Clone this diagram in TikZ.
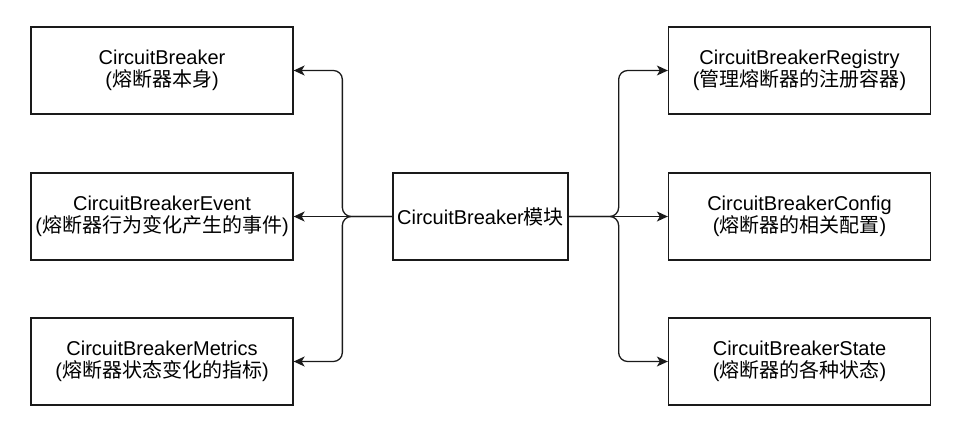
\documentclass[tikz,border=0pt]{standalone}
\usepackage{fontspec}
\setmainfont{Liberation Sans}
\newfontfamily\cjkfont{Noto Sans CJK SC}
\newcommand\zhtxt[1]{{\cjkfont #1}}
\usetikzlibrary{arrows.meta}
\definecolor{linec}{HTML}{1A1A1A}
\tikzset{
  box/.style={draw=linec, line width=1.3pt, minimum height=87pt, align=center,
    inner sep=0pt, font=\fontsize{20}{22}\selectfont, text=black},
  sidebox/.style={box, minimum width=262pt},
  conn/.style={draw=linec, line width=1.3pt, rounded corners=9pt,
    -{Stealth[length=11pt,width=10pt,inset=3pt]}}
}
\begin{document}
\begin{tikzpicture}[x=1pt,y=-1pt]
\useasboundingbox (0,0) rectangle (963,442);
\node[box, minimum width=175pt] (c) at (480.5,216.5) {CircuitBreaker\zhtxt{模块}};
\node[sidebox] (l1) at (162,70.5) {CircuitBreaker\\(\zhtxt{熔断器本身})};
\node[sidebox] (l2) at (162,216.5) {CircuitBreakerEvent\\(\zhtxt{熔断器行为变化产生的事件})};
\node[sidebox] (l3) at (162,361.5) {CircuitBreakerMetrics\\(\zhtxt{熔断器状态变化的指标})};
\node[sidebox] (r1) at (799.5,70.5) {CircuitBreakerRegistry\\(\zhtxt{管理熔断器的注册容器})};
\node[sidebox] (r2) at (799.5,216.5) {CircuitBreakerConfig\\(\zhtxt{熔断器的相关配置})};
\node[sidebox] (r3) at (799.5,361.5) {CircuitBreakerState\\(\zhtxt{熔断器的各种状态})};
\draw[conn] (c.west) -- ++(-50,0) |- (l1.east);
\draw[conn] (c.west) -- (l2.east);
\draw[conn] (c.west) -- ++(-50,0) |- (l3.east);
\draw[conn] (c.east) -- ++(50,0) |- (r1.west);
\draw[conn] (c.east) -- (r2.west);
\draw[conn] (c.east) -- ++(50,0) |- (r3.west);
\end{tikzpicture}
\end{document}
